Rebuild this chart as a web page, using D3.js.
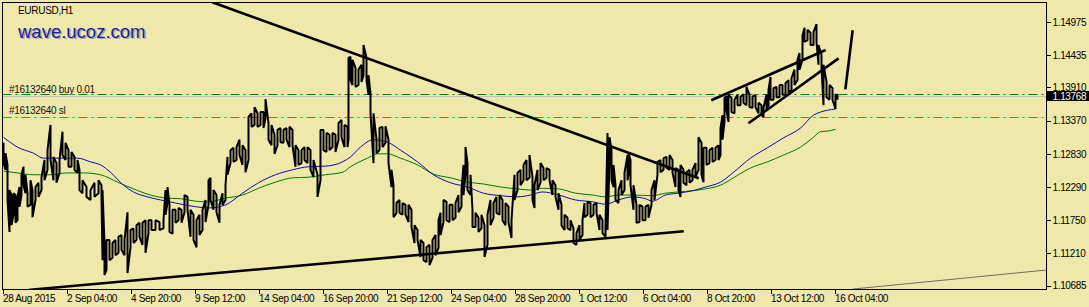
<!DOCTYPE html>
<html>
<head>
<meta charset="utf-8">
<script src="https://cdn.jsdelivr.net/npm/d3@7"></script>
<style>
body{margin:0;background:#EEE8AA;}
text{font-family:'Liberation Sans',Arial,sans-serif;}
</style>
</head>
<body>
<div id="chart"></div>
<script>
// chart values
var symbolTitle = 'EURUSD,H1';
var siteName = 'wave.ucoz.com';
var priceTicks = [1.14975, 1.14435, 1.13910, 1.13370, 1.12830, 1.12290, 1.11750, 1.11210, 1.10685];
var timeTickBars = [0, 64, 128, 192, 256, 320, 384, 448, 512, 576, 640, 704, 768, 832];
var timeTickLabels = ['28 Aug 2015', '2 Sep 04:00', '4 Sep 20:00', '9 Sep 12:00', '14 Sep 04:00', '16 Sep 20:00',
    '21 Sep 12:00', '24 Sep 04:00', '28 Sep 20:00', '1 Oct 12:00', '6 Oct 04:00', '8 Oct 20:00', '13 Oct 12:00', '16 Oct 04:00'];
var bidPrice = 1.13768;
var buyPrice = 1.1378;
var slPrice = 1.1343;
var buyLabel = '#16132640 buy 0.01';
var slLabel = '#16132640 sl';

// [bar, high, low]
var priceBars = [[1,1.1301,1.1268],[3,1.1284,1.1257],[5,1.1265,1.1208],[7,1.1224,1.1156],[9,1.1216,1.1167],[11,1.1219,1.1184],[13,1.1216,1.1171],[15,1.1213,1.1175],[17,1.1229,1.1197],[19,1.1249,1.1216],[21,1.1262,1.1232],[23,1.1249,1.1219],[25,1.1219,1.1197],[28,1.1240,1.1200],[30,1.1224,1.1180],[33,1.1229,1.1208],[36,1.1236,1.1213],[39,1.1245,1.1224],[42,1.1273,1.1240],[45,1.1289,1.1257],[48,1.1330,1.1273],[51,1.1278,1.1240],[54,1.1268,1.1236],[57,1.1273,1.1252],[60,1.1319,1.1281],[63,1.1301,1.1273],[66,1.1289,1.1262],[69,1.1286,1.1262],[72,1.1278,1.1257],[75,1.1273,1.1252],[77,1.1257,1.1224],[80,1.1240,1.1219],[84,1.1229,1.1213],[88,1.1224,1.1208],[92,1.1236,1.1213],[96,1.1240,1.1219],[99,1.1232,1.1213],[100,1.1224,1.1110],[102,1.1138,1.1086],[104,1.1143,1.1094],[107,1.1143,1.1110],[110,1.1138,1.1114],[113,1.1143,1.1118],[116,1.1148,1.1122],[119,1.1151,1.1127],[122,1.1143,1.1118],[125,1.1188,1.1089],[128,1.1159,1.1131],[131,1.1162,1.1138],[134,1.1167,1.1143],[137,1.1171,1.1148],[140,1.1171,1.1135],[143,1.1175,1.1122],[146,1.1175,1.1154],[149,1.1175,1.1159],[153,1.1175,1.1159],[157,1.1172,1.1159],[161,1.1175,1.1162],[163,1.1224,1.1184],[165,1.1229,1.1203],[167,1.1200,1.1156],[170,1.1192,1.1153],[173,1.1192,1.1171],[176,1.1195,1.1175],[179,1.1192,1.1171],[182,1.1216,1.1188],[185,1.1213,1.1192],[188,1.1192,1.1148],[191,1.1184,1.1143],[194,1.1175,1.1131],[197,1.1184,1.1151],[200,1.1192,1.1159],[203,1.1208,1.1172],[206,1.1240,1.1200],[208,1.1244,1.1208],[211,1.1224,1.1192],[214,1.1216,1.1188],[217,1.1200,1.1171],[220,1.1219,1.1200],[223,1.1232,1.1208],[225,1.1278,1.1249],[228,1.1289,1.1268],[231,1.1293,1.1270],[234,1.1294,1.1273],[237,1.1306,1.1281],[240,1.1297,1.1265],[243,1.1289,1.1253],[246,1.1343,1.1273],[249,1.1349,1.1327],[252,1.1359,1.1330],[255,1.1349,1.1327],[258,1.1351,1.1330],[261,1.1351,1.1325],[263,1.1372,1.1341],[266,1.1333,1.1306],[269,1.1330,1.1297],[272,1.1314,1.1283],[275,1.1322,1.1297],[278,1.1325,1.1302],[281,1.1322,1.1301],[284,1.1325,1.1306],[287,1.1327,1.1294],[290,1.1322,1.1297],[293,1.1297,1.1262],[296,1.1289,1.1265],[299,1.1289,1.1268],[302,1.1294,1.1273],[305,1.1294,1.1268],[308,1.1289,1.1257],[311,1.1273,1.1245],[315,1.1249,1.1213],[318,1.1322,1.1240],[321,1.1322,1.1289],[324,1.1317,1.1286],[327,1.1314,1.1289],[330,1.1317,1.1294],[333,1.1314,1.1286],[336,1.1333,1.1306],[339,1.1338,1.1310],[342,1.1330,1.1294],[345,1.1327,1.1294],[346,1.1439,1.1306],[348,1.1441,1.1403],[350,1.1436,1.1395],[353,1.1423,1.1392],[356,1.1420,1.1395],[359,1.1428,1.1400],[361,1.1460,1.1411],[364,1.1439,1.1403],[366,1.1411,1.1379],[368,1.1382,1.1349],[371,1.1349,1.1268],[374,1.1306,1.1284],[377,1.1325,1.1289],[380,1.1327,1.1294],[383,1.1328,1.1301],[386,1.1306,1.1268],[389,1.1257,1.1229],[391,1.1232,1.1180],[394,1.1203,1.1187],[397,1.1208,1.1187],[400,1.1203,1.1184],[403,1.1200,1.1184],[406,1.1200,1.1172],[409,1.1192,1.1164],[412,1.1167,1.1138],[415,1.1159,1.1143],[418,1.1143,1.1115],[421,1.1138,1.1110],[424,1.1131,1.1107],[427,1.1135,1.1102],[430,1.1143,1.1114],[433,1.1151,1.1118],[436,1.1175,1.1130],[438,1.1187,1.1151],[441,1.1208,1.1172],[444,1.1205,1.1175],[447,1.1200,1.1172],[450,1.1200,1.1175],[453,1.1203,1.1179],[456,1.1216,1.1188],[459,1.1224,1.1197],[461,1.1265,1.1216],[463,1.1294,1.1249],[465,1.1268,1.1224],[468,1.1249,1.1216],[470,1.1192,1.1164],[473,1.1187,1.1164],[476,1.1179,1.1156],[479,1.1184,1.1162],[482,1.1167,1.1115],[485,1.1184,1.1135],[488,1.1208,1.1167],[491,1.1203,1.1179],[494,1.1213,1.1187],[497,1.1216,1.1184],[500,1.1208,1.1175],[503,1.1203,1.1167],[506,1.1197,1.1172],[509,1.1175,1.1146],[512,1.1249,1.1208],[515,1.1252,1.1224],[518,1.1257,1.1232],[521,1.1265,1.1240],[524,1.1273,1.1240],[527,1.1281,1.1244],[530,1.1245,1.1208],[532,1.1232,1.1195],[535,1.1257,1.1224],[538,1.1268,1.1236],[541,1.1260,1.1240],[544,1.1260,1.1244],[547,1.1257,1.1240],[550,1.1240,1.1216],[553,1.1232,1.1213],[556,1.1219,1.1192],[559,1.1200,1.1167],[562,1.1184,1.1159],[565,1.1179,1.1162],[568,1.1175,1.1159],[571,1.1162,1.1138],[574,1.1154,1.1135],[577,1.1167,1.1143],[580,1.1175,1.1151],[582,1.1203,1.1180],[585,1.1205,1.1184],[588,1.1203,1.1180],[591,1.1200,1.1184],[594,1.1203,1.1187],[597,1.1184,1.1159],[600,1.1175,1.1154],[603,1.1167,1.1148],[605,1.1317,1.1159],[607,1.1310,1.1268],[609,1.1289,1.1240],[611,1.1265,1.1229],[613,1.1232,1.1208],[616,1.1224,1.1203],[619,1.1240,1.1216],[622,1.1252,1.1224],[625,1.1281,1.1240],[626,1.1284,1.1249],[628,1.1273,1.1232],[631,1.1232,1.1192],[634,1.1200,1.1171],[637,1.1200,1.1172],[640,1.1197,1.1175],[643,1.1197,1.1175],[646,1.1200,1.1179],[649,1.1224,1.1200],[652,1.1240,1.1208],[655,1.1270,1.1249],[658,1.1273,1.1253],[661,1.1276,1.1257],[664,1.1278,1.1260],[667,1.1281,1.1257],[670,1.1273,1.1253],[673,1.1260,1.1229],[676,1.1257,1.1224],[678,1.1265,1.1213],[681,1.1257,1.1236],[684,1.1253,1.1232],[687,1.1257,1.1236],[690,1.1257,1.1240],[693,1.1268,1.1245],[696,1.1310,1.1257],[699,1.1301,1.1249],[701,1.1293,1.1237],[704,1.1293,1.1265],[707,1.1289,1.1268],[710,1.1293,1.1270],[713,1.1293,1.1273],[716,1.1297,1.1273],[718,1.1325,1.1281],[720,1.1346,1.1306],[722,1.1374,1.1335],[724,1.1377,1.1354],[726,1.1379,1.1335],[729,1.1374,1.1351],[732,1.1371,1.1349],[735,1.1379,1.1362],[738,1.1376,1.1362],[741,1.1380,1.1366],[744,1.1392,1.1362],[747,1.1379,1.1359],[750,1.1376,1.1358],[753,1.1379,1.1359],[756,1.1366,1.1349],[759,1.1362,1.1346],[761,1.1358,1.1343],[764,1.1379,1.1354],[766,1.1387,1.1362],[768,1.1408,1.1371],[771,1.1390,1.1371],[774,1.1392,1.1375],[777,1.1395,1.1375],[780,1.1395,1.1379],[783,1.1398,1.1379],[786,1.1403,1.1382],[789,1.1406,1.1387],[792,1.1420,1.1395],[795,1.1436,1.1403],[797,1.1447,1.1420],[800,1.1476,1.1436],[802,1.1488,1.1465],[805,1.1485,1.1468],[808,1.1480,1.1460],[811,1.1481,1.1460],[814,1.1494,1.1465],[816,1.1460,1.1428],[819,1.1444,1.1423],[821,1.1428,1.1362],[824,1.1400,1.1375],[827,1.1395,1.1371],[830,1.1390,1.1371],[833,1.1379,1.1356],[835,1.1379,1.1371]];

// moving averages [bar, value]
var maFast = [[1,1.1310],[15,1.1294],[31,1.1284],[41,1.1276],[58,1.1276],[75,1.1276],[88,1.1270],[98,1.1265],[108,1.1253],[121,1.1232],[131,1.1221],[145,1.1213],[158,1.1208],[173,1.1203],[193,1.1197],[206,1.1195],[223,1.1200],[240,1.1219],[256,1.1236],[273,1.1249],[290,1.1257],[306,1.1262],[323,1.1263],[340,1.1270],[348,1.1278],[358,1.1294],[371,1.1306],[385,1.1302],[398,1.1289],[415,1.1270],[431,1.1249],[448,1.1236],[465,1.1229],[481,1.1219],[498,1.1215],[515,1.1213],[528,1.1216],[540,1.1221],[556,1.1216],[573,1.1208],[590,1.1205],[603,1.1201],[616,1.1208],[630,1.1213],[643,1.1210],[650,1.1206],[663,1.1216],[676,1.1219],[690,1.1223],[703,1.1229],[718,1.1237],[731,1.1253],[748,1.1276],[765,1.1293],[781,1.1309],[798,1.1325],[811,1.1346],[818,1.1351],[825,1.1354],[833,1.1356]];
var maSlow = [[1,1.1255],[15,1.1252],[31,1.1249],[48,1.1249],[65,1.1252],[81,1.1252],[98,1.1249],[115,1.1237],[131,1.1226],[148,1.1216],[165,1.1211],[178,1.1210],[193,1.1206],[206,1.1205],[223,1.1211],[240,1.1216],[256,1.1227],[273,1.1237],[290,1.1244],[306,1.1245],[323,1.1249],[340,1.1253],[348,1.1262],[365,1.1276],[375,1.1283],[385,1.1283],[398,1.1276],[415,1.1265],[431,1.1250],[448,1.1244],[465,1.1237],[481,1.1234],[498,1.1229],[515,1.1226],[528,1.1224],[540,1.1227],[556,1.1226],[573,1.1219],[590,1.1216],[603,1.1213],[616,1.1216],[630,1.1216],[650,1.1215],[663,1.1219],[676,1.1221],[690,1.1223],[703,1.1226],[718,1.1232],[731,1.1244],[748,1.1260],[765,1.1270],[781,1.1281],[798,1.1294],[811,1.1310],[818,1.1319],[825,1.1320],[833,1.1323]];

// hand drawn trend lines, [bar, price] ends
var trendLines = [
    [[211, 1.1529], [695, 1.1244]],
    [[28, 1.1062], [680, 1.1157]],
    [[710, 1.1371], [822, 1.1451]],
    [[747, 1.1334], [835, 1.1437]],
    [[843, 1.1390], [850, 1.1482]]
];
var greyLine = [[850, 1.1063], [1044, 1.1094]];

var width = 1089, height = 307;
// plot box edges (names chosen so they do not clash with window.top)
var plotL = 2.5, plotR = 1046.5, plotT = 2.5, plotB = 289.5;

var svg = d3.select('#chart').append('svg')
    .attr('width', width)
    .attr('height', height);

svg.append('rect').attr('width', width).attr('height', height).attr('fill', '#EEE8AA');

var x = d3.scaleLinear().domain([0, 1044]).range([plotL, plotR]);
var y = d3.scaleLinear().domain([1.106314, 1.152922]).range([289, plotT]);

svg.append('clipPath').attr('id', 'plotclip')
    .append('rect')
    .attr('x', plotL).attr('y', plotT)
    .attr('width', plotR - plotL).attr('height', plotB - plotT);

var plot = svg.append('g').attr('clip-path', 'url(#plotclip)');

// order levels
plot.append('line')
    .attr('x1', plotL).attr('x2', plotR)
    .attr('y1', Math.round(y(bidPrice)) + 0.5).attr('y2', Math.round(y(bidPrice)) + 0.5)
    .style('stroke', '#C0C0C0').style('stroke-width', 1);
plot.append('line')
    .attr('x1', plotL).attr('x2', plotR)
    .attr('y1', Math.round(y(buyPrice)) - 0.5).attr('y2', Math.round(y(buyPrice)) - 0.5)
    .style('stroke', '#00801a').style('stroke-width', 1).style('stroke-dasharray', '9,4,2,4');
plot.append('line')
    .attr('x1', plotL).attr('x2', plotR)
    .attr('y1', Math.round(y(slPrice)) + 0.5).attr('y2', Math.round(y(slPrice)) + 0.5)
    .style('stroke', '#F04A0A').style('stroke-width', 1).style('stroke-dasharray', '9,4,2,4');

// moving averages
var maLine = d3.line()
    .x(function (d) { return x(d[0]); })
    .y(function (d) { return y(d[1]); })
    .curve(d3.curveMonotoneX);
plot.append('path').datum(maSlow)
    .attr('d', maLine)
    .style('fill', 'none').style('stroke', '#007800').style('stroke-width', 1);
plot.append('path').datum(maFast)
    .attr('d', maLine)
    .style('fill', 'none').style('stroke', '#0c0ca8').style('stroke-width', 1);

// price bars as a ragged high/low zigzag
var pts = [];
priceBars.forEach(function (d, i) {
    if (i % 2 === 0) {
        pts.push([d[0], d[1]]);
        pts.push([d[0], d[2]]);
    } else {
        pts.push([d[0], d[2]]);
        pts.push([d[0], d[1]]);
    }
});
plot.append('path').datum(pts)
    .attr('d', d3.line().x(function (d) { return x(d[0]); }).y(function (d) { return y(d[1]); }))
    .style('fill', 'none').style('stroke', '#000').style('stroke-width', 2)
    .style('stroke-linejoin', 'bevel');

// trend lines
trendLines.forEach(function (t) {
    plot.append('line')
        .attr('x1', x(t[0][0])).attr('y1', y(t[0][1]))
        .attr('x2', x(t[1][0])).attr('y2', y(t[1][1]))
        .style('stroke', '#000').style('stroke-width', 2.6).style('stroke-linecap', 'square');
});
plot.append('line')
    .attr('x1', x(greyLine[0][0])).attr('y1', y(greyLine[0][1]))
    .attr('x2', x(greyLine[1][0])).attr('y2', y(greyLine[1][1]))
    .style('stroke', '#6e6e6e').style('stroke-width', 1);

// texts in the plot
plot.append('text').attr('x', 18).attr('y', 14)
    .attr('font-size', '10px').attr('letter-spacing', '-0.3px').attr('fill', '#000')
    .text(symbolTitle);
plot.append('text').attr('x', 19.5).attr('y', 39.2)
    .attr('font-size', '18.5px').attr('fill', '#a9a9a9')
    .text(siteName);
plot.append('text').attr('x', 18).attr('y', 37.7)
    .attr('font-size', '18.5px').attr('fill', '#1c1ca0')
    .text(siteName);
plot.append('text').attr('x', 9).attr('y', 92.5)
    .attr('font-size', '10px').attr('letter-spacing', '-0.3px').attr('fill', '#111')
    .text(buyLabel);
plot.append('text').attr('x', 9).attr('y', 114)
    .attr('font-size', '10px').attr('letter-spacing', '-0.3px').attr('fill', '#111')
    .text(slLabel);

// plot border
svg.append('rect')
    .attr('x', plotL).attr('y', plotT)
    .attr('width', plotR - plotL).attr('height', plotB - plotT)
    .style('fill', 'none').style('stroke', '#000').style('stroke-width', 1);

// price axis
var yAxis = d3.axisRight(y).tickValues(priceTicks).tickSize(4).tickPadding(2)
    .tickFormat(d3.format('.5f'));
var gy = svg.append('g').attr('transform', 'translate(' + plotR + ',0)').call(yAxis);
gy.select('.domain').remove();
gy.selectAll('line').style('stroke', '#000').attr('shape-rendering', 'crispEdges');
gy.selectAll('text').attr('font-family', "'Liberation Sans',Arial,sans-serif")
    .attr('font-size', '10px').attr('letter-spacing', '-0.35px').style('fill', '#000');

// time axis
var xAxis = d3.axisBottom(x).tickValues(timeTickBars).tickSize(4).tickPadding(1)
    .tickFormat(function (d, i) { return timeTickLabels[i]; });
var gx = svg.append('g').attr('transform', 'translate(0,' + plotB + ')').call(xAxis);
gx.select('.domain').remove();
gx.selectAll('line').style('stroke', '#000').attr('shape-rendering', 'crispEdges');
gx.selectAll('text').attr('font-family', "'Liberation Sans',Arial,sans-serif")
    .attr('font-size', '10px').attr('letter-spacing', '-0.35px').attr('text-anchor', 'start')
    .attr('x', 0).style('fill', '#000');

// current bid label
var bidY = Math.round(y(bidPrice));
svg.append('rect')
    .attr('x', plotR + 0.5).attr('y', bidY - 5)
    .attr('width', width - plotR).attr('height', 10)
    .style('fill', '#000');
svg.append('text')
    .attr('x', plotR + 6).attr('y', bidY + 3.6)
    .attr('font-size', '10px').attr('letter-spacing', '-0.35px').attr('fill', '#fff')
    .text(d3.format('.5f')(bidPrice));
</script>
</body>
</html>
